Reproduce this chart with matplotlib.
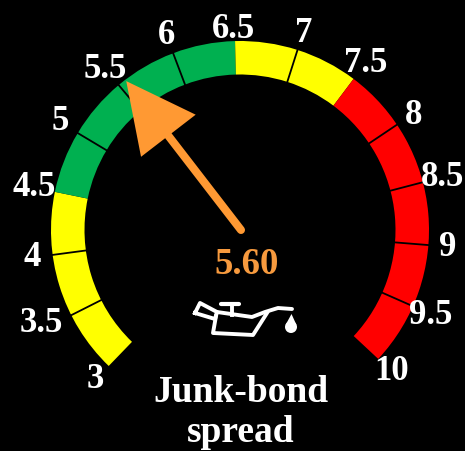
#-*-coding:utf-8 -*-
import matplotlib
matplotlib.use('Agg')
import matplotlib.pyplot as plt
from matplotlib.patches import Wedge, Polygon, Circle
import numpy as np

# gauge data
tick_values = [3, 3.5, 4, 4.5, 5, 5.5, 6, 6.5, 7, 7.5, 8, 8.5, 9, 9.5, 10]
tick_labels = ['3', '3.5', '4', '4.5', '5', '5.5', '6', '6.5', '7', '7.5', '8', '8.5', '9', '9.5', '10']
band_edges = [3, 4.5, 6.5, 7.5, 10]
band_colors = ['#FFFF00', '#00B050', '#FFFF00', '#FF0000']
reading = 5.60
title_lines = ['Junk-bond', 'spread']

# label positions (pixel centre of each text)
label_xy = [(95, 380), (41, 323), (32, 257), (34, 188), (60, 122), (105, 70), (166, 36), (233, 30),
            (304, 33), (366, 63), (414, 115), (443, 178), (448, 248), (431, 315), (392, 372)]

cx, cy = 240, 230
r_out, r_in = 189, 155.5
orange = '#FF9933'
serif = 'Liberation Serif'

def val2ang(v):
    # the dial is tilted a little: 3 sits at 226 deg, 10 at -43 deg
    return 226 - (v - 3) / 7 * 269

fig = plt.figure(figsize=(4.65, 4.51), dpi=100, facecolor='black')
ax = fig.add_axes([0, 0, 1, 1])
ax.set_xlim(0, 465)
ax.set_ylim(451, 0)
ax.axis('off')

# coloured bands (y axis is flipped so angles are negated)
for i in range(len(band_colors)):
    a1 = val2ang(band_edges[i])
    a2 = val2ang(band_edges[i + 1])
    ax.add_patch(Wedge((cx, cy), r_out, -a1, -a2, width=r_out - r_in, color=band_colors[i], lw=0))

# black separators
for v in tick_values[1:-1]:
    if v in band_edges:
        continue
    a = np.radians(val2ang(v))
    ax.plot([cx + r_in * np.cos(a), cx + (r_out + 1) * np.cos(a)],
            [cy - r_in * np.sin(a), cy - (r_out + 1) * np.sin(a)], color='black', lw=1.3, zorder=2)

# labels
for (x, y), s in zip(label_xy, tick_labels):
    ax.text(x, y, s, color='white', fontsize=25, fontweight='bold', family=serif,
            ha='center', va='center', zorder=5)

# needle
a = np.radians(val2ang(reading - 0.04))
ux, uy = np.cos(a), -np.sin(a)
px, py = -uy, ux
bx, by = 241, 230
tipx, tipy = bx + 188 * ux, by + 188 * uy
headx, heady = tipx - 69 * ux, tipy - 69 * uy
ax.plot([bx, headx], [by, heady], color=orange, lw=5.8, solid_capstyle='round', zorder=6)
ax.add_patch(Polygon([(tipx, tipy), (headx + 34.5 * px, heady + 34.5 * py), (headx - 34.5 * px, heady - 34.5 * py)],
                     closed=True, color=orange, lw=0, zorder=7))

# value
ax.text(247, 265, '%.2f' % reading, color='#F79A3E', fontsize=26.5, fontweight='bold', family=serif,
        ha='center', va='center', zorder=5)

# oil can icon
ax.plot([195, 200, 217, 215, 195], [313, 303, 312, 319, 313], color='white', lw=2.8, solid_joinstyle='round', zorder=5)
ax.plot([217, 238, 252, 265, 278, 292], [312, 315, 317, 312, 308, 309], color='white', lw=2.8,
        solid_capstyle='round', solid_joinstyle='round', zorder=5)
ax.plot([216, 213, 253, 267], [316, 333, 335, 313], color='white', lw=2.8, solid_joinstyle='round', zorder=5)
ax.plot([232, 232], [305, 315], color='white', lw=2.8, zorder=5)
ax.plot([221, 239], [304, 304], color='white', lw=3, solid_capstyle='round', zorder=5)
ax.add_patch(Circle((291, 327), 6, color='white', lw=0, zorder=5))
ax.add_patch(Polygon([(285.5, 325), (291.5, 314), (296.5, 325)], closed=True, color='white', lw=0, zorder=5))

# title
ax.text(241, 392, title_lines[0], color='white', fontsize=27, fontweight='bold', family=serif,
        ha='center', va='center')
ax.text(241, 432, title_lines[1], color='white', fontsize=27, fontweight='bold', family=serif,
        ha='center', va='center')

fig.savefig('out.png', dpi=100, facecolor='black')
